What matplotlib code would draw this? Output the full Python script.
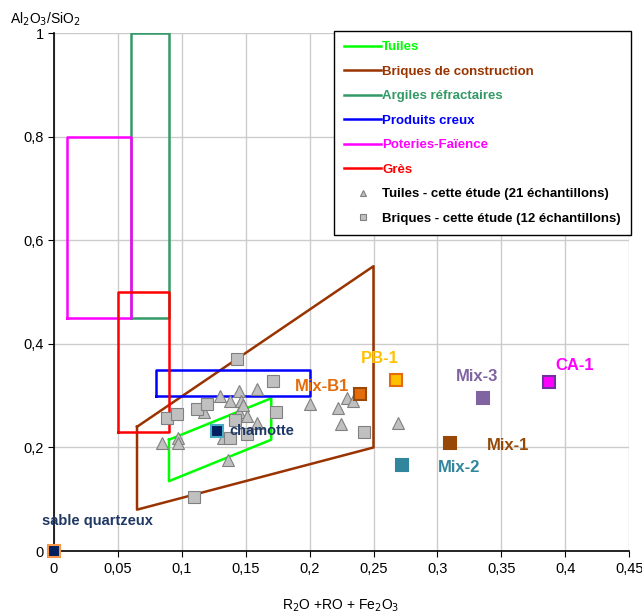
import numpy as np
import matplotlib
matplotlib.use("Agg")
import matplotlib.pyplot as plt

plt.rcParams['font.family'] = ['Liberation Sans', 'DejaVu Sans']

# domain outlines (x = R2O+RO+Fe2O3, y = Al2O3/SiO2)
zone_names = ["Tuiles", "Briques de construction", "Argiles réfractaires",
              "Produits creux", "Poteries-Faïence", "Grès"]
zone_colors = ["#00FF00", "#993300", "#339966", "#0000FF", "#FF00FF", "#FF0000"]
zone_x = [
    [0.09, 0.17, 0.17, 0.09, 0.09],
    [0.065, 0.25, 0.25, 0.065, 0.065],
    [0.06, 0.06, 0.09, 0.09, 0.06],
    [0.08, 0.08, 0.20, 0.20, 0.08],
    [0.01, 0.01, 0.06, 0.06, 0.01],
    [0.05, 0.05, 0.09, 0.09, 0.05],
]
zone_y = [
    [0.215, 0.295, 0.215, 0.135, 0.215],
    [0.24, 0.55, 0.20, 0.08, 0.24],
    [0.45, 1.00, 1.00, 0.45, 0.45],
    [0.30, 0.35, 0.35, 0.30, 0.30],
    [0.45, 0.80, 0.80, 0.45, 0.45],
    [0.23, 0.50, 0.50, 0.23, 0.23],
]

# samples of this study
tuiles_x = [0.1445, 0.159, 0.1296, 0.138, 0.1463, 0.1174, 0.1447, 0.1507, 0.1588,
            0.0848, 0.097, 0.097, 0.1325, 0.136, 0.200, 0.229, 0.2337, 0.2225,
            0.2243, 0.2689, 0.148]
tuiles_y = [0.3095, 0.313, 0.2986, 0.2896, 0.2896, 0.2677, 0.2677, 0.2606, 0.2465,
            0.209, 0.219, 0.209, 0.219, 0.1757, 0.283, 0.2946, 0.29, 0.2755,
            0.2446, 0.2465, 0.282]
briques_x = [0.1434, 0.171, 0.0887, 0.0962, 0.1116, 0.120, 0.1419, 0.1377, 0.1513,
             0.1734, 0.1098, 0.2426]
briques_y = [0.371, 0.328, 0.256, 0.265, 0.275, 0.283, 0.253, 0.2175, 0.227,
             0.268, 0.1036, 0.229]

# raw materials and mixes
mix_names = ["sable quartzeux", "chamotte", "Mix-B1", "PB-1", "Mix-3", "CA-1", "Mix-1", "Mix-2"]
mix_x = [0.0, 0.1273, 0.2394, 0.2676, 0.336, 0.387, 0.310, 0.2725]
mix_y = [0.0, 0.232, 0.303, 0.330, 0.2946, 0.327, 0.209, 0.166]
mix_face = ["#002060", "#002060", "#E46C0A", "#FFC000", "#8064A2", "#FF00FF", "#974806", "#31859C"]
mix_edge = ["#F79646", "#4BACC6", "#984807", "#E46C0A", "#8064A2", "#7030A0", "#974806", "#31859C"]
mix_text = ["#1F3864", "#1F3864", "#E46C0A", "#FFC000", "#8064A2", "#FF00FF", "#974806", "#31859C"]
label_x = [0.034, 0.1375, 0.2094, 0.255, 0.331, 0.407, 0.3385, 0.3007]
label_y = [0.059, 0.232, 0.3185, 0.372, 0.3365, 0.359, 0.2046, 0.161]
label_size = [10.5, 10.5, 12, 12, 12, 12, 12, 12]
label_ha = ["center", "left", "center", "center", "center", "center", "left", "left"]

fig = plt.figure(figsize=(6.42, 6.13), dpi=100)
ax = fig.add_axes([0.084, 0.101, 0.896, 0.845])

handles = []
for name, c, xs, ys in zip(zone_names, zone_colors, zone_x, zone_y):
    ln, = ax.plot(xs, ys, color=c, lw=1.8, label=name, zorder=3)
    handles.append(ln)

h1, = ax.plot(tuiles_x, tuiles_y, ls='none', marker='^', ms=9, mfc='#C0C0C0',
              mec='#808080', mew=0.8, zorder=4, label="Tuiles - cette étude (21 échantillons)")
h2, = ax.plot(briques_x, briques_y, ls='none', marker='s', ms=8.5, mfc='#C0C0C0',
              mec='#808080', mew=0.8, zorder=4, label="Briques - cette étude (12 échantillons)")
handles += [h1, h2]

for i in range(len(mix_names)):
    ax.plot(mix_x[i], mix_y[i], ls='none', marker='s', ms=8.5, mfc=mix_face[i],
            mec=mix_edge[i], mew=1.5, zorder=5, clip_on=False)
    ax.text(label_x[i], label_y[i], mix_names[i], color=mix_text[i], fontsize=label_size[i],
            fontweight='bold', ha=label_ha[i], va='center', zorder=6)

ax.set_xlim(0, 0.45)
ax.set_ylim(0, 1)
ax.set_xticks(np.arange(0, 0.46, 0.05))
ax.set_yticks(np.arange(0, 1.01, 0.2))
ax.set_xticklabels(["0", "0,05", "0,1", "0,15", "0,2", "0,25", "0,3", "0,35", "0,4", "0,45"])
ax.set_yticklabels(["0", "0,2", "0,4", "0,6", "0,8", "1"])
ax.tick_params(labelsize=10.5, length=4, direction='out', colors='black')
ax.grid(True, color='#CCCCCC', lw=1)
ax.set_axisbelow(True)
for s in ['top', 'right']:
    ax.spines[s].set_visible(False)
ax.spines['left'].set_linewidth(1.2)
ax.spines['bottom'].set_linewidth(1.2)

fig.text(0.015, 0.968, r'Al$_2$O$_3$/SiO$_2$', fontsize=10, ha='left', va='center')
fig.text(0.53, 0.012, r'R$_2$O +RO + Fe$_2$O$_3$', fontsize=10, ha='center', va='center')

leg = ax.legend(handles=handles, loc='upper right', bbox_to_anchor=(1.003, 1.004),
                borderaxespad=0, prop={'weight': 'bold', 'size': 9.5}, frameon=True,
                fancybox=False, edgecolor='black', framealpha=1, handlelength=2.8,
                handletextpad=0.1, labelspacing=0.93, borderpad=0.75, markerscale=0.55,
                numpoints=1)
leg.get_frame().set_linewidth(1.0)
for txt, c in zip(leg.get_texts(), zone_colors + ['black', 'black']):
    txt.set_color(c)

fig.savefig("out.png", dpi=100)
